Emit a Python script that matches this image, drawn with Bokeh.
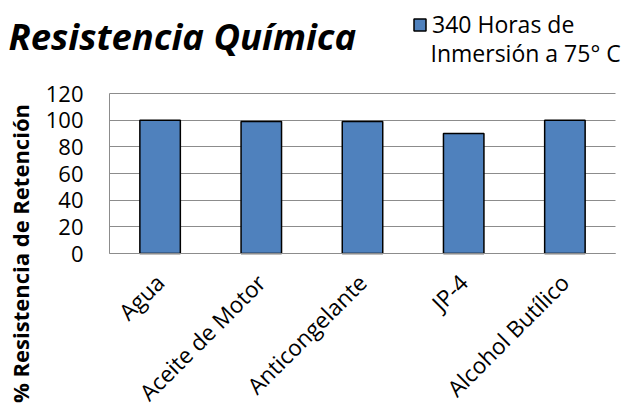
from math import pi
from bokeh.plotting import figure
from bokeh.models import (Range1d, FixedTicker, Label, Legend, LegendItem, ColumnDataSource, Grid)
from bokeh.embed import file_html
from bokeh.resources import INLINE

# ---- data ----
categories = ["Agua", "Aceite de Motor", "Anticongelante", "JP-4", "Alcohol Butílico"]
values = [100, 99, 99, 90, 100]
y_ticks = [0, 20, 40, 60, 80, 100, 120]
series_name_line1 = "340 Horas de"
series_name_line2 = "Inmersión a 75° C"
title_text = "Resistencia Química"
y_label_text = "% Resistencia de Retención"

FONT = "Open Sans"
BAR_COLOR = "#4F81BD"
GRID_COLOR = "#8C8C8C"

W, H = 627, 409
positions = list(range(len(categories)))
src = ColumnDataSource(dict(x=positions, val=values))

# plot area: categories from px 109 to 615, values 0..120 from px 253 to 93
px_per_cat = (615 - 109) / len(categories)
px_per_unit = (253 - 93) / 120
x_start = -0.5 - 109 / px_per_cat
x_end = len(categories) - 0.5 + (W - 615) / px_per_cat
y_start = -(H - 253) / px_per_unit
y_end = 120 + 93 / px_per_unit

p = figure(width=W, height=H, output_backend="svg", toolbar_location=None,
           x_range=Range1d(x_start, x_end), y_range=Range1d(y_start, y_end),
           min_border=0)
p.outline_line_color = None
p.background_fill_color = "white"
p.border_fill_color = "white"

r = p.vbar(x="x", top="val", width=0.4, source=src, fill_color=BAR_COLOR,
           line_color="black", line_width=1.5)

# y axis
p.yaxis.fixed_location = -0.5
p.yaxis.bounds = (0, 120)
p.yaxis.ticker = FixedTicker(ticks=y_ticks)
p.yaxis.major_label_text_font = FONT
p.yaxis.major_label_text_font_size = "22px"
p.yaxis.major_label_text_color = "black"
p.yaxis.major_tick_line_color = None
p.yaxis.minor_tick_line_color = None
p.yaxis.major_tick_out = 0
p.yaxis.major_tick_in = 0
p.yaxis.major_label_standoff = 26
p.yaxis.axis_line_color = GRID_COLOR

# x axis
p.xaxis.fixed_location = 0
p.xaxis.bounds = (-0.5, len(categories) - 0.5)
p.xaxis.ticker = FixedTicker(ticks=positions)
p.xaxis.major_label_overrides = {i: c for i, c in zip(positions, categories)}
p.xaxis.major_label_orientation = pi / 4
p.xaxis.major_label_text_font = FONT
p.xaxis.major_label_text_font_size = "22.5px"
p.xaxis.major_label_text_color = "black"
p.xaxis.major_tick_line_color = None
p.xaxis.minor_tick_line_color = None
p.xaxis.major_tick_out = 0
p.xaxis.major_tick_in = 0
p.xaxis.major_label_standoff = 25
p.xaxis.axis_line_color = GRID_COLOR

p.xgrid.grid_line_color = None
p.ygrid.ticker = FixedTicker(ticks=y_ticks)
p.ygrid.grid_line_color = GRID_COLOR
p.ygrid.grid_line_width = 1
if "cross_bounds" in Grid.properties():
    p.ygrid.cross_bounds = (-0.5, len(categories) - 0.5)

# title
p.add_layout(Label(x=8, y=H - 35, x_units="screen", y_units="screen", text=title_text,
                   text_font=FONT, text_font_size="36.5px", text_font_style="bold italic",
                   text_color="black", text_baseline="alphabetic", text_align="left"))

# y label
p.add_layout(Label(x=19, y=H - 253, x_units="screen", y_units="screen", text=y_label_text,
                   angle=pi / 2, text_font=FONT, text_font_size="22px", text_font_style="bold",
                   text_color="black", text_baseline="middle", text_align="center"))

# legend
legend = Legend(items=[LegendItem(label=series_name_line1, renderers=[r])],
                location=(412, H - 40), padding=0, margin=0, spacing=0,
                glyph_width=15, glyph_height=15, label_standoff=5,
                label_text_font=FONT, label_text_font_size="23px", label_text_color="black",
                border_line_color=None, background_fill_alpha=0)
p.add_layout(legend)
p.add_layout(Label(x=430, y=H - 52, x_units="screen", y_units="screen", text=series_name_line2,
                   text_font=FONT, text_font_size="23px", text_color="black",
                   text_baseline="alphabetic", text_align="left"))

open("out.html", "w").write(file_html(p, INLINE))
